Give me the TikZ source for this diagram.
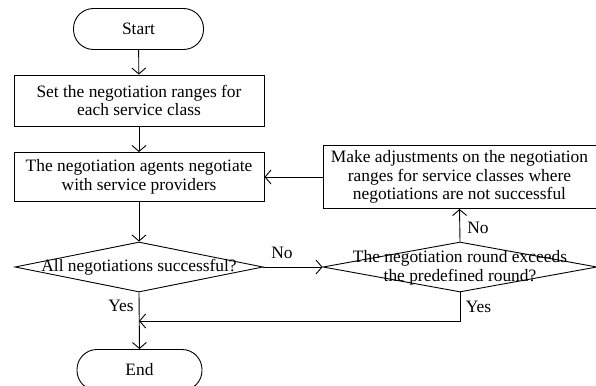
\documentclass[tikz,border=0pt]{standalone}
\usepackage{fontspec}
\setmainfont{Liberation Serif}
\usetikzlibrary{arrows.meta,shapes.geometric}
\begin{document}
\begin{tikzpicture}[x=1pt,y=-1pt,
  every node/.style={font=\fontsize{17.4}{18.8}\selectfont},
  term/.style={draw,rectangle,rounded corners=20pt,minimum width=130pt,minimum height=41pt,inner sep=0pt},
  procbox/.style={draw,rectangle,align=center,inner sep=0pt},
  decide/.style={draw,diamond,inner sep=0pt,aspect=5},
  txt/.style={align=center,inner sep=0pt},
  arr/.style={-{Straight Barb[length=6pt,width=14pt]}},
  line width=0.9pt]
\useasboundingbox (0,0) rectangle (596,385);
\node[term] (start) at (138.5,29) {Start};
\node[procbox,minimum width=250pt,minimum height=51pt] (b1) at (139,100.5)
  {Set the negotiation ranges for\\each service class};
\node[procbox,minimum width=250pt,minimum height=49pt] (b2) at (139,177)
  {The negotiation agents negotiate\\with service providers};
\node[decide,minimum width=248pt,minimum height=50pt] (d1) at (139,267) {};
\node[txt] (d1t) at (139,267) {All negotiations successful?};
\node[decide,minimum width=274pt,minimum height=50pt] (d2) at (460,267) {};
\node[txt] (d2t) at (460,267.5) {The negotiation round exceeds\\the predefined round?};
\node[procbox,minimum width=273pt,minimum height=63pt] (b3) at (459.5,177)
  {Make adjustments on the negotiation\\ranges for service classes where\\negotiations are not successful};
\node[term,minimum width=125pt] (end) at (139.5,370) {End};
\coordinate (m) at (139,321);
\draw[arr] (start) -- (b1);
\draw[arr] (b1) -- (b2);
\draw[arr] (b2) -- (d1);
\draw[arr] (d1.south) -- (end.north);
\draw[arr] (d1.east) -- (d2.west);
\draw[arr] (d2.north) -- (b3.south);
\draw[arr] (b3.west) -- (b2.east);
\draw[arr] (d2.south) |- (m);
\node[txt] (no1) at (282,253) {No};
\node[txt] (no2) at (478,228) {No};
\node[txt] (yes1) at (121,306) {Yes};
\node[txt] (yes2) at (478.5,307) {Yes};
\end{tikzpicture}
\end{document}
